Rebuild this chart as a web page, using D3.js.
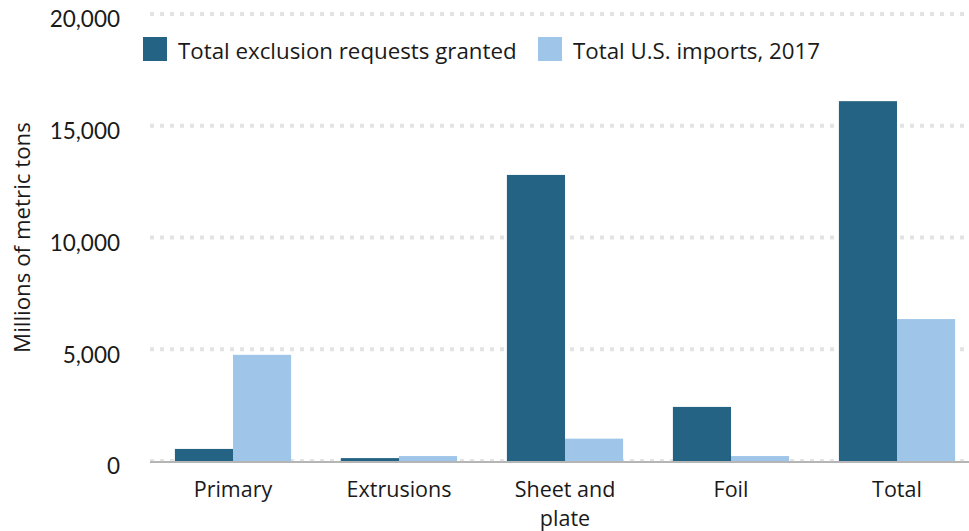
<!DOCTYPE html>
<html>
<head>
<meta charset="utf-8">
<script src="https://cdn.jsdelivr.net/npm/d3@7"></script>
<style>
  html, body { margin: 0; padding: 0; background: #fff; }
  svg { display: block; font-family: "Open Sans", sans-serif; }
</style>
</head>
<body>
<svg id="chart" width="969" height="531"></svg>
<script>
// Aluminum exclusion requests vs. 2017 imports, by product type
const categories = ["Primary", "Extrusions", "Sheet and plate", "Foil", "Total"];
const exclusionsGranted = [540, 130, 12800, 2420, 16100];
const imports2017 = [4750, 220, 1000, 220, 6350];
const seriesNames = ["Total exclusion requests granted", "Total U.S. imports, 2017"];
const seriesColors = ["#256384", "#9fc5e8"];
const yTicks = [0, 5000, 10000, 15000, 20000];

const svg = d3.select("#chart");
const W = 969, H = 531;
const margin = { left: 150, right: -11, top: 14, bottom: 70 };

const x = d3.scaleBand()
  .domain(categories)
  .range([margin.left, W - margin.right])
  .paddingInner(0.3)
  .paddingOuter(0.15);

const xs = d3.scaleBand()
  .domain(d3.range(seriesNames.length))
  .range([0, x.bandwidth()]);

const y = d3.scaleLinear()
  .domain([0, 20000])
  .range([H - margin.bottom, margin.top]);

// dotted gridlines
svg.append("g")
  .selectAll("line")
  .data(yTicks)
  .join("line")
  .attr("x1", margin.left)
  .attr("x2", W)
  .attr("y1", d => y(d))
  .attr("y2", d => y(d))
  .attr("stroke", "#e3e3e3")
  .attr("stroke-width", 4)
  .attr("stroke-dasharray", "4 6");

// y tick labels, sitting slightly below their gridlines
const yAxis = svg.append("g")
  .attr("transform", `translate(${margin.left - 30},5)`)
  .call(d3.axisLeft(y).tickValues(yTicks).tickSize(0).tickPadding(0).tickFormat(d3.format(",")));
yAxis.select(".domain").remove();
yAxis.selectAll("text")
  .attr("font-size", 22.5)
  .attr("fill", "#1a1a1a")
  .attr("font-family", "Lato, sans-serif")
  .attr("dy", "0.35em");

// y axis title
svg.append("text")
  .attr("transform", `translate(30,${(y(0) + y(20000)) / 2}) rotate(-90)`)
  .attr("text-anchor", "middle")
  .attr("font-size", 22.3)
  .attr("fill", "#1a1a1a")
  .text("Millions of metric tons");

// bars
const rows = categories.map((c, i) => ({ cat: c, vals: [exclusionsGranted[i], imports2017[i]] }));
svg.append("g")
  .selectAll("g")
  .data(rows)
  .join("g")
  .attr("transform", d => `translate(${x(d.cat)},0)`)
  .selectAll("rect")
  .data(d => d.vals.map((v, k) => ({ v, k })))
  .join("rect")
  .attr("x", d => xs(d.k))
  .attr("width", xs.bandwidth())
  .attr("y", d => y(d.v))
  .attr("height", d => y(0) - y(d.v))
  .attr("fill", d => seriesColors[d.k]);

// baseline
svg.append("line")
  .attr("x1", margin.left)
  .attr("x2", W)
  .attr("y1", y(0) + 1)
  .attr("y2", y(0) + 1)
  .attr("stroke", "#b5b5b5")
  .attr("stroke-width", 2);

// x labels, wrapped
const xLab = svg.append("g")
  .selectAll("text")
  .data(categories)
  .join("text")
  .attr("x", d => x(d) + x.bandwidth() / 2)
  .attr("y", y(0) + 36)
  .attr("text-anchor", "middle")
  .attr("font-size", 21.5)
  .attr("fill", "#1a1a1a");
xLab.each(function (d) {
  const lines = d === "Sheet and plate" ? ["Sheet and", "plate"] : [d];
  const t = d3.select(this);
  lines.forEach((ln, i) => {
    t.append("tspan")
      .attr("x", x(d) + x.bandwidth() / 2)
      .attr("dy", i === 0 ? 0 : 29)
      .text(ln);
  });
});

// legend
const legendX = [143, 538];
const lg = svg.append("g")
  .selectAll("g")
  .data(seriesNames)
  .join("g")
  .attr("transform", (d, i) => `translate(${legendX[i]},37)`);
lg.append("rect")
  .attr("width", 24)
  .attr("height", 24)
  .attr("fill", (d, i) => seriesColors[i]);
lg.append("text")
  .attr("x", 35)
  .attr("y", 22)
  .attr("font-size", 22.3)
  .attr("fill", "#1a1a1a")
  .text(d => d);
</script>
</body>
</html>
